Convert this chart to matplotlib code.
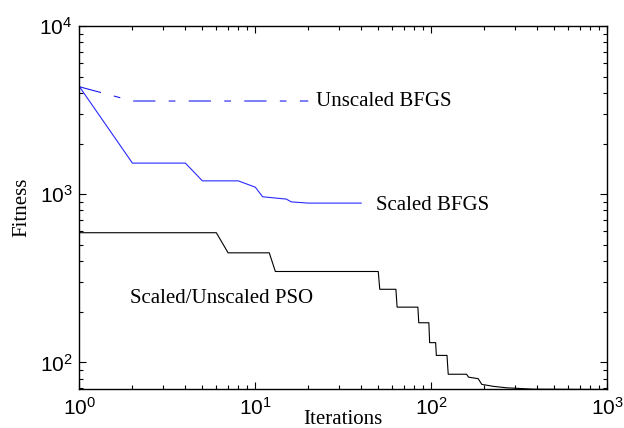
import matplotlib

matplotlib.use("Agg")
import matplotlib.pyplot as plt

# Scaled/Unscaled PSO (iteration, fitness) vertices
pso_iter = [1, 6, 7, 12, 13, 50, 51, 63, 64, 84, 85, 97, 98, 106, 107, 123,
            125, 159, 163, 185, 194, 226, 269, 380, 1000]
pso_fit = [590, 590, 448, 448, 347, 347, 272, 272, 213, 213, 172, 172, 131,
           131, 110, 110, 85, 85, 81.7, 80, 74, 72, 70.6, 69.3, 69]

# Scaled BFGS
sbfgs_iter = [1, 2, 4, 5, 8, 10, 11, 15, 16, 20, 40]
sbfgs_fit = [4350, 1530, 1530, 1200, 1200, 1100, 965, 935, 900, 885, 885]

# Unscaled BFGS
ubfgs_iter = [1, 2, 20]
ubfgs_fit = [4350, 3580, 3580]

SERIF = "Liberation Serif"
SANS = "Liberation Sans"

fig = plt.figure(figsize=(6.24, 4.28), dpi=100)
ax = fig.add_axes([0.1274, 0.09, 0.8454, 0.8493])

ax.plot(pso_iter, pso_fit, color="black", lw=0.8)
ax.plot(sbfgs_iter, sbfgs_fit, color="#2a2aff", lw=0.8)
ax.plot(ubfgs_iter, ubfgs_fit, color="#1a1aee", lw=0.8,
        dashes=(20, 12, 6, 12))

ax.set_xscale("log")
ax.set_yscale("log")
ax.set_xlim(1, 1000)
ax.set_ylim(69, 1e4)

ax.tick_params(which="both", direction="in", top=True, right=True,
               width=0.8, labelsize=15)
ax.tick_params(which="major", length=5, pad=5)
ax.tick_params(which="minor", length=3)
for lab in ax.get_xticklabels() + ax.get_yticklabels():
    lab.set_fontfamily(SANS)
for s in ax.spines.values():
    s.set_linewidth(1.0)

ax.set_xlabel("Iterations", family=SERIF, fontsize=15, labelpad=-6)
ax.set_ylabel("Fitness", family=SERIF, fontsize=15, labelpad=6)

ax.text(20 * 1.1, 3580, "Unscaled BFGS", family=SERIF, fontsize=15,
        va="center", ha="left")
ax.text(40 * 1.22, 861, "Scaled BFGS", family=SERIF, fontsize=15,
        va="center", ha="left")
ax.text(1.94, 240, "Scaled/Unscaled PSO", family=SERIF, fontsize=15,
        va="center", ha="left")

fig.savefig("out.png", dpi=100)
